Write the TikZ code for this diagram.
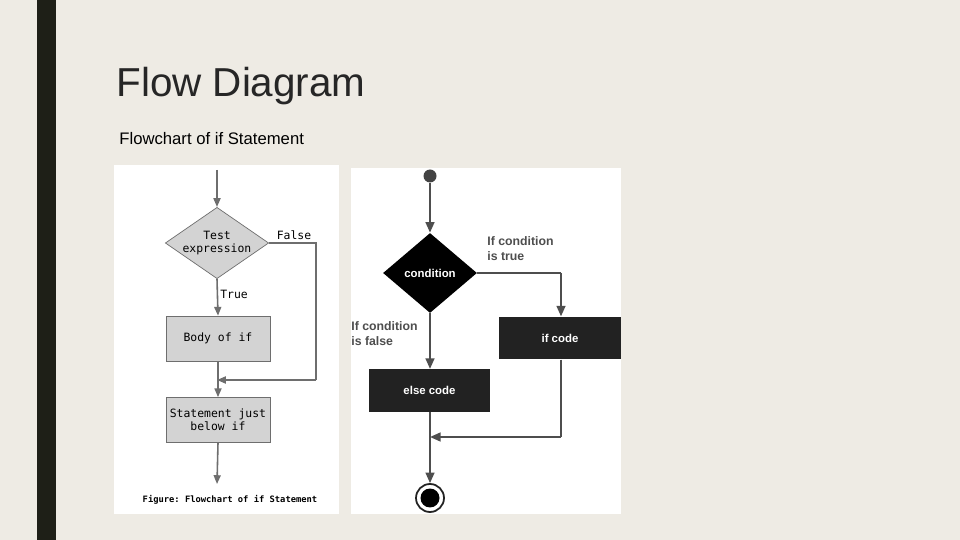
\documentclass[tikz,border=0pt]{standalone}
\usepackage{fontspec}
\setmainfont{Liberation Sans}
\setmonofont{DejaVu Sans Mono}
\usetikzlibrary{shapes.geometric,arrows.meta}
\definecolor{bg}{HTML}{EEEBE4}
\definecolor{bar}{HTML}{1E1F17}
\definecolor{lgray}{HTML}{D3D3D3}
\definecolor{lline}{HTML}{6E6E6E}
\definecolor{dk}{HTML}{222222}
\tikzset{
 larr/.style={draw=lline,line width=0.9pt,-{Triangle[length=5pt,width=4pt]}},
 lln/.style={draw=lline,line width=0.9pt},
 rarr/.style={draw=dk!80,line width=1.1pt,-{Triangle[length=6pt,width=5pt]}},
 rln/.style={draw=dk!80,line width=1.1pt},
 lbox/.style={draw=lline,fill=lgray,minimum width=2.08cm,minimum height=0.9cm,inner sep=0pt,font=\ttfamily\fontsize{6.5}{7.5}\selectfont,align=center},
 rbox/.style={fill=dk,minimum width=2.44cm,minimum height=0.85cm,inner sep=0pt,text=white,font=\bfseries\fontsize{6.5}{8}\selectfont},
 lab/.style={font=\fontsize{7}{8}\selectfont,align=left,inner sep=0pt,anchor=north west}
}
\begin{document}
\begin{tikzpicture}[x=0.02cm,y=-0.02cm]
\useasboundingbox (0,0) rectangle (960,540);
\fill[bg] (0,0) rectangle (960,540);
\fill[bar] (37,0) rectangle (56,540);
\node[anchor=base west,inner sep=0pt,font=\fontsize{23}{26}\selectfont,text=black!85] (title) at (116,97) {Flow Diagram};
\node[anchor=base west,inner sep=0pt,font=\fontsize{9.5}{11}\selectfont] (sub) at (119,145) {Flowchart of if Statement};
% left figure
\fill[white] (114,165) rectangle (339,514);
\coordinate (ls) at (217,170);
\node[diamond,draw=lline,fill=lgray,minimum width=2.04cm,minimum height=1.4cm,inner sep=0pt,aspect=1.45,font=\ttfamily\fontsize{6.5}{7.5}\selectfont,align=center] (td) at (217,243) {Test\\expression};
\node[lbox] (body) at (218,338.5) {Body of if};
\node[lbox] (stmt) at (218,420) {Statement just\\below if};
\coordinate (le) at (217,484);
\coordinate (lf1) at (316,243);
\coordinate (lf2) at (316,380);
\coordinate (lj) at (217,380);
\draw[larr] (ls) -- (td.north);
\draw[larr] (td.south) -- (body.north);
\draw[lln] (td.east) -- (lf1) -- (lf2);
\draw[larr] (lf2) -- (lj);
\draw[larr] (body.south) -- (stmt.north);
\draw[larr] (stmt.south) -- (le);
\node[font=\ttfamily\fontsize{6.5}{7.5}\selectfont,inner sep=0pt] (fl) at (294,235) {False};
\node[font=\ttfamily\fontsize{6.5}{7.5}\selectfont,inner sep=0pt] (tl) at (234,294) {True};
\node[font=\ttfamily\bfseries\fontsize{5}{6}\selectfont,inner sep=0pt] (cap) at (230,500) {Figure: Flowchart of if Statement};
% right figure
\fill[white] (351,168) rectangle (621,514);
\node[circle,fill=dk!85,minimum size=0.26cm,inner sep=0pt] (st) at (430,176) {};
\node[diamond,fill=black,minimum width=1.88cm,minimum height=1.6cm,inner sep=0pt,aspect=1.2,text=white,font=\bfseries\fontsize{6.5}{8}\selectfont] (cd) at (430,273) {condition};
\node[rbox] (ifc) at (560,338) {if code};
\node[rbox] (elc) at (429.5,390.5) {else code};
\node[circle,draw=dk,line width=1pt,fill=white,minimum size=0.56cm,inner sep=0pt] (en) at (430,498) {};
\node[circle,fill=black,minimum size=0.38cm,inner sep=0pt] (en2) at (430,498) {};
\coordinate (r1) at (561,273);
\coordinate (r2) at (561,437);
\coordinate (rj) at (430,437);
\draw[rarr] (st) -- (cd.north);
\draw[rln] (cd.east) -- (r1);
\draw[rarr] (r1) -- (ifc.north -| r1);
\draw[rarr] (cd.south) -- (elc.north -| cd.south);
\draw[rln] (ifc.south -| r1) -- (r2);
\draw[rarr] (r2) -- (rj);
\draw[rarr] (elc.south -| cd.south) -- (en.north);
\node[lab,font=\bfseries\fontsize{7}{8.5}\selectfont,text=dk!80] (tt) at (487,236) {If condition\\is true};
\node[lab,font=\bfseries\fontsize{7}{8.5}\selectfont,text=dk!80] (ft) at (351,321) {If condition\\is false};
\end{tikzpicture}
\end{document}
